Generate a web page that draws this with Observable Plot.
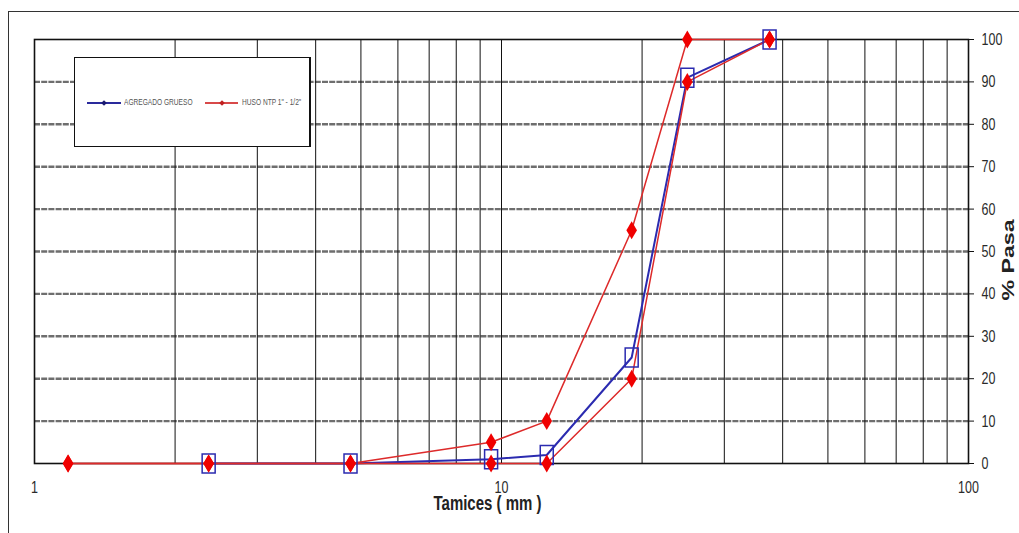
<!DOCTYPE html>
<html>
<head>
<meta charset="utf-8">
<script src="https://cdn.jsdelivr.net/npm/d3@7"></script>
<script src="https://cdn.jsdelivr.net/npm/@observablehq/plot@0.6"></script>
<style>
  html, body { margin: 0; padding: 0; background: #fff; }
  #wrap { position: relative; width: 1019px; height: 533px; overflow: hidden; background: #fff; }
  #outer { position: absolute; left: 8px; top: 11px; width: 1200px; height: 800px;
           border-left: 1.5px solid #333; border-top: 1.5px solid #333; }
  #chart { position: absolute; left: 0; top: 0; }
  #legend { position: absolute; left: 74px; top: 57px; width: 234px; height: 88px;
            border: 1.5px solid #111; border-right-width: 2px; background: #fff;
            font-family: "Liberation Sans", Arial, sans-serif; }
  .ln { position: absolute; height: 2px; top: 44px; }
  .mk { position: absolute; width: 4px; height: 4px; top: 43px; transform: rotate(45deg); }
  .tx { position: absolute; top: 40px; font-size: 6.6px; line-height: 8px; color: #555; white-space: nowrap;
        transform: scaleY(1.3); transform-origin: left center; }
</style>
</head>
<body>
<div id="wrap">
  <div id="outer"></div>
  <div id="chart"></div>
  <div id="legend">
    <div class="ln" style="left:12px;width:34px;background:#2a2a9c"></div>
    <div class="mk" style="left:27px;background:#1a1a70"></div>
    <div class="tx" style="left:49px">AGREGADO GRUESO</div>
    <div class="ln" style="left:130px;width:33px;background:#d84a4a"></div>
    <div class="mk" style="left:145px;background:#c02020"></div>
    <div class="tx" style="left:167px">HUSO NTP 1" - 1/2"</div>
  </div>
</div>
<script>
// ---- data ----
const sieves         = [1.18, 2.36, 4.75, 9.5, 12.5, 19, 25, 37.5];   // mm
const agregadoGrueso = [null, 0,    0,    1,   2,    25, 91, 100];    // % passing
const husoMax        = [0,    0,    0,    5,   10,   55, 100, 100];
const husoMin        = [0,    0,    0,    0,   0,    20, 90, 100];
const yTicks = [0, 10, 20, 30, 40, 50, 60, 70, 80, 90, 100];
const xTicks = [1, 10, 100];
const xGrid  = [2, 3, 4, 5, 6, 7, 8, 9, 10, 20, 30, 40, 50, 60, 70, 80, 90];
const xLabel = "Tamices ( mm )";
const yLabel = "% Pasa";

const toRows = vals => sieves.map((s, i) => ({ s, v: vals[i] })).filter(d => d.v != null);
const blueRows = toRows(agregadoGrueso);
const maxRows = toRows(husoMax);
const minRows = toRows(husoMin);

const BLUE = "#2b2bb0";
const RED_LINE = "#dd2a2a";
const RED_MARK = "#f00000";

// stretched symbols (the reference is vertically stretched)
const rectSym = { draw(c) { c.moveTo(-6.5, -9.5); c.lineTo(6.5, -9.5); c.lineTo(6.5, 9.5); c.lineTo(-6.5, 9.5); c.closePath(); } };
const diamSym = { draw(c) { c.moveTo(0, -9); c.lineTo(5.3, 0); c.lineTo(0, 9); c.lineTo(-5.3, 0); c.closePath(); } };

const plot = Plot.plot({
  width: 1019,
  height: 533,
  marginLeft: 34,
  marginRight: 51,
  marginTop: 39,
  marginBottom: 70,
  x: { type: "log", domain: [1, 100] },
  y: { domain: [0, 100] },
  style: { fontFamily: "Liberation Sans, Arial, sans-serif", background: "transparent", color: "#222" },
  marks: [
    Plot.ruleY(yTicks.filter(t => t > 0 && t < 100), { stroke: "#6e6e6e", strokeWidth: 2.4, strokeDasharray: "6,1.2" }),
    Plot.ruleX(xGrid, { stroke: "#111", strokeWidth: 1 }),
    Plot.frame({ stroke: "#111", strokeWidth: 1.6 }),
    Plot.axisY(yTicks, { anchor: "right", tickSize: 5, tickPadding: 8, fontSize: 12.5, label: null, fill: "#2a2a2a", stroke: "#111" }),
    Plot.axisX(xTicks, { anchor: "bottom", tickSize: 0, tickPadding: 19, fontSize: 12.5, label: null, tickFormat: d => String(d), fill: "#2a2a2a" }),
    Plot.text([xLabel], { text: d => d, frameAnchor: "bottom", dx: -14, dy: 44, fontSize: 15, fontWeight: "bold", fill: "#222" }),
    Plot.text([yLabel], { text: d => d, frameAnchor: "right", dx: 40, dy: 9, fontSize: 16, fontWeight: "bold", fill: "#222" }),
    Plot.line(blueRows, { x: "s", y: "v", stroke: BLUE, strokeWidth: 2 }),
    Plot.line(maxRows, { x: "s", y: "v", stroke: RED_LINE, strokeWidth: 1.5 }),
    Plot.line(minRows, { x: "s", y: "v", stroke: RED_LINE, strokeWidth: 1.5 }),
    Plot.dot(blueRows, { x: "s", y: "v", symbol: rectSym, stroke: BLUE, fill: "none", strokeWidth: 1.5 }),
    Plot.dot(maxRows, { x: "s", y: "v", symbol: diamSym, fill: RED_MARK, stroke: "none" }),
    Plot.dot(minRows, { x: "s", y: "v", symbol: diamSym, fill: RED_MARK, stroke: "none" })
  ]
});

document.getElementById("chart").appendChild(plot);

// stretch texts vertically to mimic the reference's tall glyphs
const K = 1.38;
plot.querySelectorAll("text").forEach(t => {
  if (t.textContent === yLabel) {
    // rotated axis title: reads bottom-to-top at the right edge, stretched along its length
    const g = t.parentNode;
    if (g && g.removeAttribute) g.removeAttribute("transform");
    t.removeAttribute("x"); t.removeAttribute("y");
    t.setAttribute("text-anchor", "middle");
    t.setAttribute("dy", "0.36em");
    t.setAttribute("transform", `translate(1008,260) rotate(-90) scale(1.45,1)`);
    return;
  }
  const b = t.getBBox();
  const cx = b.x + b.width / 2, cy = b.y + b.height / 2;
  const tr = t.getAttribute("transform") || "";
  t.setAttribute("transform", `${tr} translate(${cx},${cy}) scale(1,${K}) translate(${-cx},${-cy})`.trim());
});
</script>
</body>
</html>
